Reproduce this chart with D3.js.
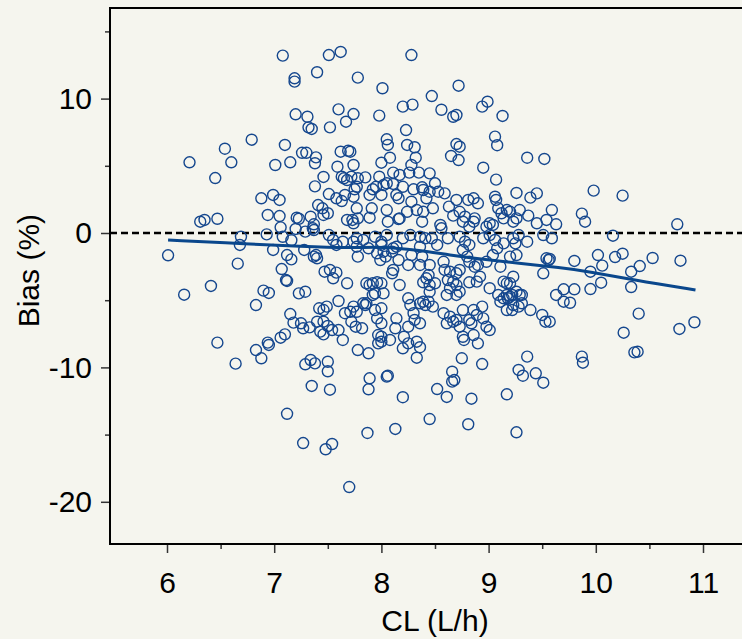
<!DOCTYPE html>
<html>
<head>
<meta charset="utf-8">
<script src="https://cdn.jsdelivr.net/npm/d3@7"></script>
<style>
  html, body { margin: 0; background: #f5f5ee; }
  svg { display: block; font-family: "Liberation Sans", Arial, sans-serif; }
</style>
</head>
<body>
<div id="chart"></div>
<script>
const obs = [
  [7.08,13.2],[7.51,13.24],[7.62,13.47],[8.28,13.24],[7.19,11.51],[7.19,11.26],[7.40,11.96],[7.78,11.56],[8.01,10.77],[8.72,10.96],
  [8.47,10.19],[8.20,9.40],[8.29,9.55],[8.56,9.17],[8.67,8.65],[8.70,8.78],[8.94,9.40],[8.99,9.77],[9.13,8.71],[7.74,8.85],
  [7.98,8.73],[8.23,7.66],[8.05,6.97],[8.06,6.55],[8.24,6.55],[8.31,6.38],[8.32,5.60],[8.08,5.60],[8.00,5.23],[8.70,6.62],
  [8.73,6.42],[9.06,7.17],[9.08,6.53],[8.65,5.73],[8.72,5.43],[9.36,5.60],[9.52,5.51],[8.95,4.86],[9.07,3.97],[9.26,2.98],
  [9.45,2.95],[9.39,2.63],[7.71,6.05],[8.28,5.06],[8.26,4.49],[8.35,4.49],[8.45,4.44],[8.17,4.32],[8.11,4.49],[7.98,4.19],
  [7.74,5.06],[7.72,4.19],[7.78,4.07],[7.85,4.14],[7.75,3.25],[7.77,3.44],[7.92,3.25],[7.95,3.44],[8.02,3.57],[8.05,3.70],
  [8.11,3.65],[8.20,3.44],[8.30,3.25],[8.38,3.40],[8.39,3.20],[8.45,3.07],[8.50,3.70],[8.53,3.07],[8.59,2.95],[7.89,2.83],
  [8.00,2.83],[8.14,2.83],[8.16,2.58],[8.70,2.46],[8.81,2.46],[8.86,2.58],[9.06,2.70],[9.07,2.46],
  [7.20,8.83],[7.31,8.65],[7.60,9.20],[7.32,7.86],[7.35,7.74],[7.52,7.86],[7.67,8.28],[6.79,6.94],[6.54,6.27],[7.10,6.55],
  [6.21,5.26],[6.60,5.26],[6.45,4.09],[7.01,5.06],[7.15,5.26],[7.26,5.97],[7.30,5.97],[7.39,5.63],[7.38,5.19],[7.46,4.17],
  [7.38,3.47],[7.51,2.90],[7.59,4.93],[7.62,6.05],[7.69,6.12],[7.63,4.19],[7.65,4.07],[7.68,3.94],[6.88,2.58],[6.99,2.83],
  [7.05,2.46],[7.58,2.58],[7.66,2.83],[7.74,2.70],[9.98,3.15],[10.25,2.78],
  [6.31,0.84],[6.35,0.97],[6.47,1.06],[6.01,-1.66],[6.69,-0.28],[6.68,-0.89],[6.66,-2.28],[6.41,-3.94],[6.16,-4.59],[6.83,-5.36],
  [6.90,-4.29],[6.95,-4.46],[6.47,-8.16],[6.94,1.34],[7.05,1.26],[6.93,-0.10],[6.99,-1.26],[7.06,0.42],[7.08,-0.28],[7.16,-0.54],
  [7.12,-1.64],[7.16,-1.96],[7.07,-2.68],[7.11,-3.50],[7.12,-3.57],[7.21,1.14],[7.23,1.06],[7.20,0.30],[7.29,0.10],[7.37,0.22],
  [7.28,-1.26],[7.37,-1.76],[7.39,-1.64],[7.40,-1.88],[7.23,-4.49],[7.29,-4.37],[7.15,-6.03],[7.18,-6.67],[7.25,-6.72],[7.27,-7.09],
  [7.33,-7.02],[7.06,-7.79],[7.10,-7.54],[6.94,-8.16],[7.41,2.08],[7.45,1.84],[7.46,1.34],[7.50,1.47],[7.34,1.21],[7.37,0.65],
  [7.36,0.35],[7.51,-0.15],[7.55,-0.52],[7.58,-0.89],[7.64,-0.65],[7.47,-2.88],[7.52,-2.75],[7.58,-2.95],[7.55,-3.37],[7.68,-3.74],
  [7.60,-5.06],[7.42,-5.60],[7.46,-5.73],[7.49,-5.48],[7.40,-6.60],[7.46,-6.60],[7.50,-6.92],[7.54,-7.22],[7.60,-7.22],[7.43,-7.34],
  [7.46,-7.54],[7.66,-5.97],[7.71,-5.86],[7.74,-5.48],[7.72,-6.60],[7.64,-7.96],[7.68,0.97],[7.73,0.97],[7.74,0.72],[7.78,1.09],
  [7.77,1.84],[7.74,-0.65],[7.77,-1.02],[7.78,-1.76],[7.76,-6.97],[7.63,2.38],
  [9.87,1.44],[9.90,0.84],[10.16,-0.20],[10.76,0.65],[10.79,-2.06],[9.57,-1.93],[9.80,-2.08],[10.02,-1.64],[10.06,-2.43],[9.95,-2.88],
  [10.18,-1.79],[10.25,-1.54],[10.41,-2.46],[10.53,-1.86],[10.33,-2.88],[10.33,-4.02],[10.05,-3.70],[9.95,-4.17],[9.70,-4.19],[9.80,-4.19],
  [9.63,-4.61],[9.70,-5.11],[9.76,-5.19],[10.40,-6.00],[10.26,-7.42],[10.78,-7.14],[10.92,-6.64],[9.57,-6.60],[9.59,1.71],[9.63,0.65],
  [9.87,-9.20],[9.88,-9.65],[10.36,-8.88],[10.39,-8.83],
  [6.83,-8.71],[6.88,-9.32],[6.95,-8.33],[6.64,-9.72],[7.29,-9.77],[7.34,-9.45],[7.38,-9.70],[7.50,-9.58],[7.50,-10.29],[7.35,-11.38],
  [7.52,-11.66],[7.78,-8.71],[7.12,-13.45],[7.27,-15.63],[7.48,-16.09],[7.54,-15.70],[7.70,-18.90],
  [7.88,-8.95],[7.97,-8.21],[8.00,-8.09],[8.08,-7.96],[8.20,-8.58],[8.25,-8.21],[8.33,-8.09],[8.36,-8.50],[8.33,-9.28],[7.89,-10.81],
  [7.88,-11.63],[8.05,-10.69],[8.06,-10.62],[8.20,-12.22],[8.52,-11.61],[8.61,-12.20],[8.66,-10.32],[8.66,-11.06],[8.68,-10.94],[8.75,-9.32],
  [8.84,-12.33],[8.94,-9.75],[8.77,-7.96],[8.90,-8.21],[8.45,-13.84],[8.81,-14.23],[7.87,-14.88],[8.13,-14.58],[9.26,-14.83],[9.17,-12.00],
  [9.28,-10.19],[9.32,-10.62],[9.36,-9.20],[9.44,-10.44],[9.51,-11.14],
  [7.91,1.84],[7.89,1.14],[8.05,1.71],[8.06,0.84],[8.16,1.04],[8.17,1.09],[8.24,1.58],[8.28,2.33],[8.33,1.71],[8.39,1.58],
  [8.38,0.84],[8.42,2.58],[8.48,1.84],[8.55,0.60],[8.56,0.35],[8.63,1.96],[8.67,1.29],[8.73,1.58],[8.78,1.21],[8.76,0.84],
  [8.82,0.47],[8.86,0.84],[8.87,1.09],[8.90,2.21],[8.98,0.47],[9.01,0.72],[9.04,0.60],[9.09,1.84],[9.17,1.71],[9.20,1.58],
  [9.12,1.47],[9.14,1.09],[9.23,0.84],[9.26,1.09],[9.29,1.71],[9.37,1.29],[9.45,0.72],[9.54,0.97],
  [7.77,-0.39],[7.83,-0.52],[7.94,-0.28],[8.00,-0.65],[8.05,-0.15],[8.20,-0.39],[8.27,-0.15],[8.36,-0.28],[8.41,-0.39],[8.47,-0.39],
  [8.52,-0.89],[8.62,-0.39],[8.73,-0.28],[8.78,-0.65],[8.82,-0.89],[8.95,-0.39],[9.01,-0.15],[9.06,-0.52],[9.08,-1.14],[9.14,-0.77],
  [9.23,-0.39],[9.28,-0.15],[9.25,-0.77],[9.36,-0.65],[9.51,-0.15],[9.59,-0.39],
  [7.88,-1.14],[7.96,-1.51],[7.99,-2.01],[8.00,-0.89],[8.02,-1.39],[8.04,-1.76],[8.10,-1.39],[8.11,-1.14],[8.14,-1.02],[8.11,-2.75],
  [8.10,-3.00],[8.16,-2.01],[8.25,-2.38],[8.28,-1.64],[8.36,-1.02],[8.38,-1.76],[8.36,-2.38],[8.45,-2.38],[8.44,-3.13],[8.42,-3.37],
  [8.39,-3.67],[8.45,-3.87],[8.50,-3.74],[8.45,-4.37],[8.58,-2.14],[8.59,-2.75],[8.64,-2.88],[8.62,-3.50],[8.67,-3.62],[8.70,-3.00],
  [8.73,-2.75],[8.70,-3.87],[8.64,-4.11],[8.73,-4.37],[8.70,-4.61],[8.61,-4.61],[8.76,-1.26],[8.80,-1.76],[8.82,-2.14],[8.87,-2.51],
  [8.90,-2.38],[8.92,-3.25],[8.89,-3.62],[8.82,-3.67],[8.98,-2.14],[9.01,-4.11],[9.04,-1.64],[9.11,-2.51],[9.14,-3.62],[9.17,-3.74],
  [9.20,-3.74],[9.23,-3.25],[9.22,-4.61],[9.26,-4.37],[9.29,-4.61],[9.31,-5.23],[9.18,-4.86],[9.20,-1.76],[9.26,-1.64],[9.54,-1.88],
  [9.56,-2.01],[9.51,-3.00],[9.39,-5.73],[9.50,-6.10],[9.53,-6.60],
  [7.86,-3.74],[7.89,-3.87],[7.92,-3.74],[7.96,-3.67],[8.00,-3.74],[8.02,-4.49],[7.94,-4.49],[7.92,-4.61],[8.17,-3.87],[7.83,-5.23],
  [7.86,-5.23],[7.85,-5.36],[7.77,-5.86],[7.94,-5.73],[8.00,-5.60],[7.96,-6.35],[8.00,-6.72],[7.82,-7.09],[8.25,-4.86],[8.27,-5.36],
  [8.36,-5.23],[8.39,-5.11],[8.41,-5.36],[8.44,-5.11],[8.30,-5.97],[8.31,-6.47],[8.25,-6.97],[8.14,-6.35],[8.13,-7.09],[8.36,-6.72],
  [8.48,-5.48],[8.58,-5.97],[8.64,-6.23],[8.67,-6.60],[8.61,-6.72],[8.70,-6.47],[8.73,-6.97],[8.76,-5.73],[8.82,-6.47],[8.86,-5.73],
  [8.89,-6.10],[8.94,-5.48],[8.95,-6.35],[8.98,-6.97],[9.01,-7.22],[8.84,-6.72],[8.76,-7.72],[8.86,-7.59],[9.09,-4.61],[9.11,-5.11],
  [9.14,-4.86],[9.17,-4.61],[9.20,-4.74],[9.23,-5.36],[9.17,-5.73],[9.22,-5.73],[9.28,-5.48],[9.31,-4.61],[7.97,-7.59],[8.00,-7.72],
  [8.21,-7.72]
];

// smooth trend (loess-like) through the points
const trendCl   = [6.01, 6.77, 7.24, 7.71, 8.01, 8.33, 8.64, 8.95, 9.27, 9.67, 9.95, 10.35, 10.93];
const trendBias = [-0.52, -0.82, -1.00, -1.12, -1.02, -1.26, -1.64, -1.96, -2.25, -2.58, -2.88, -3.50, -4.24];

const xTicks = [6, 7, 8, 9, 10, 11];
const xMinor = [6.5, 7.5, 8.5, 9.5, 10.5];
const yTicks = [10, 0, -10, -20];
const yMinor = [15, 5, -5, -15];

const width = 742, height = 639;
const frame = { left: 110, top: 8, right: 742, bottom: 544 };
const ink = "#15478e";
const fontSize = 30;

const x = d3.scaleLinear().domain([6, 11]).range([167, 703]);
const y = d3.scaleLinear().domain([-20, 10]).range([501.8, 98.6]);

const svg = d3.select("#chart").append("svg")
  .attr("width", width)
  .attr("height", height);

svg.append("rect")
  .attr("width", width).attr("height", height)
  .attr("fill", "#f5f5ee");

svg.append("clipPath").attr("id", "plotclip")
  .append("rect")
  .attr("x", frame.left).attr("y", frame.top)
  .attr("width", frame.right - frame.left)
  .attr("height", frame.bottom - frame.top);

const plot = svg.append("g").attr("clip-path", "url(#plotclip)");

// zero reference
plot.append("line")
  .attr("x1", frame.left).attr("x2", frame.right)
  .attr("y1", y(0)).attr("y2", y(0))
  .attr("stroke", "#000")
  .attr("stroke-width", 2.4)
  .attr("stroke-dasharray", "7,4");

plot.selectAll("circle")
  .data(obs)
  .join("circle")
  .attr("cx", d => x(d[0]))
  .attr("cy", d => y(d[1]))
  .attr("r", 5.5)
  .attr("fill", "none")
  .attr("stroke", ink)
  .attr("stroke-width", 1.4);

const trend = trendCl.map((c, i) => [c, trendBias[i]]);
plot.append("path")
  .datum(trend)
  .attr("fill", "none")
  .attr("stroke", "#0a478c")
  .attr("stroke-width", 3)
  .attr("d", d3.line().x(d => x(d[0])).y(d => y(d[1])).curve(d3.curveBasis));

// axes, plain hyphen for negatives like the original
const fmt = d => String(d);

const xAxis = svg.append("g")
  .attr("transform", `translate(0,${frame.bottom})`)
  .call(d3.axisBottom(x).tickValues(xTicks).tickFormat(fmt).tickSize(9).tickPadding(19));
xAxis.select(".domain").remove();
xAxis.selectAll(".tick line").attr("stroke", "#333").attr("stroke-width", 1.5);
xAxis.selectAll("text").attr("font-size", fontSize).attr("fill", "#000");

const xMin = svg.append("g")
  .attr("transform", `translate(0,${frame.bottom})`)
  .call(d3.axisBottom(x).tickValues(xMinor).tickFormat("").tickSize(5));
xMin.select(".domain").remove();
xMin.selectAll(".tick line").attr("stroke", "#333").attr("stroke-width", 1.5);

const yAxis = svg.append("g")
  .attr("transform", `translate(${frame.left},0)`)
  .call(d3.axisLeft(y).tickValues(yTicks).tickFormat(fmt).tickSize(9).tickPadding(9));
yAxis.select(".domain").remove();
yAxis.selectAll(".tick line").attr("stroke", "#333").attr("stroke-width", 1.5);
yAxis.selectAll("text").attr("font-size", fontSize).attr("fill", "#000");

const yMin = svg.append("g")
  .attr("transform", `translate(${frame.left},0)`)
  .call(d3.axisLeft(y).tickValues(yMinor).tickFormat("").tickSize(5));
yMin.select(".domain").remove();
yMin.selectAll(".tick line").attr("stroke", "#333").attr("stroke-width", 1.5);

// frame: left, bottom and top edges (right edge is cut off)
svg.append("path")
  .attr("d", `M${frame.right},${frame.top}H${frame.left}V${frame.bottom}H${frame.right}`)
  .attr("fill", "none")
  .attr("stroke", "#000")
  .attr("stroke-width", 2);

svg.append("text")
  .attr("x", (x(6) + x(11)) / 2)
  .attr("y", 631)
  .attr("text-anchor", "middle")
  .attr("font-size", fontSize)
  .text("CL (L/h)");

svg.append("text")
  .attr("transform", `translate(39,${y(-2.8)}) rotate(-90)`)
  .attr("text-anchor", "middle")
  .attr("font-size", fontSize)
  .text("Bias (%)");
</script>
</body>
</html>
